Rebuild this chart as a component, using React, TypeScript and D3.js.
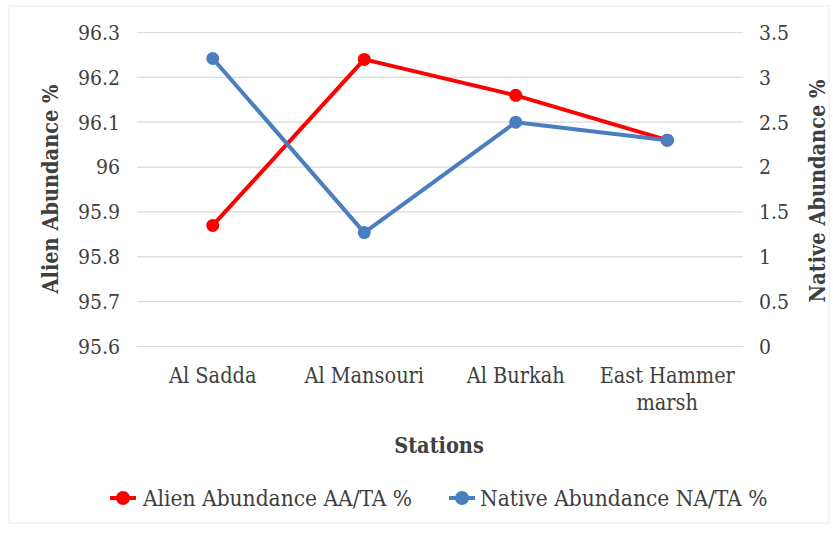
import React from "react";
import * as d3 from "d3";

const stations = ["Al Sadda", "Al Mansouri", "Al Burkah", "East Hammer marsh"];
const stationLines = [["Al Sadda"], ["Al Mansouri"], ["Al Burkah"], ["East Hammer", "marsh"]];
const alienValues = [95.87, 96.24, 96.16, 96.06];
const nativeValues = [3.21, 1.27, 2.5, 2.3];
const leftTicks = [95.6, 95.7, 95.8, 95.9, 96, 96.1, 96.2, 96.3];
const rightTicks = [0, 0.5, 1, 1.5, 2, 2.5, 3, 3.5];

const W = 836, H = 535;
const plot = { left: 137, right: 743, top: 32.5, bottom: 346.5 };
const FONT = "'DejaVu Serif', serif";
const RED = "#ff0000";
const BLUE = "#4a7ebf";
const TXT = "#404040";

export default function App() {
  const x = d3.scaleBand().domain(stations).range([plot.left, plot.right]);
  const yL = d3.scaleLinear().domain([95.6, 96.3]).range([plot.bottom, plot.top]);
  const yR = d3.scaleLinear().domain([0, 3.5]).range([plot.bottom, plot.top]);
  const cx = (s: string) => (x(s) as number) + x.bandwidth() / 2;
  const lineL = d3.line<number>().x((_, i) => cx(stations[i])).y((d) => yL(d));
  const lineR = d3.line<number>().x((_, i) => cx(stations[i])).y((d) => yR(d));

  return (
    <svg width={W} height={H} style={{ position: "absolute", left: 0, top: 0, background: "#fff", fontStretch: "condensed" }} fontFamily={FONT}>
      <rect x={9} y={6} width={820} height={517} fill="#fff" stroke="#ececec" />
      {leftTicks.map((t) => (
        <line key={t} x1={plot.left} x2={plot.right} y1={yL(t)} y2={yL(t)} stroke="#d9d9d9" strokeWidth={1.2} />
      ))}
      {leftTicks.map((t) => (
        <text key={t} x={120} y={yL(t)} dy="0.35em" textAnchor="end" fontSize={21} fill={TXT}>
          {String(t)}
        </text>
      ))}
      {rightTicks.map((t) => (
        <text key={t} x={759} y={yR(t)} dy="0.35em" textAnchor="start" fontSize={21} fill={TXT}>
          {String(t)}
        </text>
      ))}
      {stationLines.map((lines, i) => (
        <text key={i} x={cx(stations[i])} y={375} textAnchor="middle" fontSize={21.5} fill={TXT}>
          {lines.map((l, j) => (
            <tspan key={j} x={cx(stations[i])} dy={j === 0 ? "0.35em" : 27}>{l}</tspan>
          ))}
        </text>
      ))}
      <text x={439} y={445} dy="0.35em" textAnchor="middle" fontSize={21.5} fontWeight="bold" fill={TXT}>Stations</text>
      <text transform={`translate(50,189) rotate(-90)`} textAnchor="middle" dy="0.35em" fontSize={21.5} fontWeight="bold" fill={TXT}>Alien Abundance %</text>
      <text transform={`translate(817,191) rotate(-90)`} textAnchor="middle" dy="0.35em" fontSize={21.5} fontWeight="bold" fill={TXT}>Native Abundance %</text>
      <path d={lineL(alienValues) || ""} fill="none" stroke={RED} strokeWidth={4} strokeLinejoin="round" />
      <path d={lineR(nativeValues) || ""} fill="none" stroke={BLUE} strokeWidth={4} strokeLinejoin="round" />
      {alienValues.map((v, i) => (
        <circle key={"a" + i} cx={cx(stations[i])} cy={yL(v)} r={6.5} fill={RED} />
      ))}
      {nativeValues.map((v, i) => (
        <circle key={"n" + i} cx={cx(stations[i])} cy={yR(v)} r={6.5} fill={BLUE} />
      ))}
      <g>
        <line x1={110} x2={136} y1={498} y2={498} stroke={RED} strokeWidth={4} />
        <circle cx={123} cy={498} r={7} fill={RED} />
        <text x={143} y={498} dy="0.35em" fontSize={22.5} fill={TXT}>Alien Abundance AA/TA %</text>
        <line x1={449} x2={475} y1={498} y2={498} stroke={BLUE} strokeWidth={4} />
        <circle cx={462} cy={498} r={7} fill={BLUE} />
        <text x={480} y={498} dy="0.35em" fontSize={22.5} fill={TXT}>Native Abundance NA/TA %</text>
      </g>
    </svg>
  );
}
